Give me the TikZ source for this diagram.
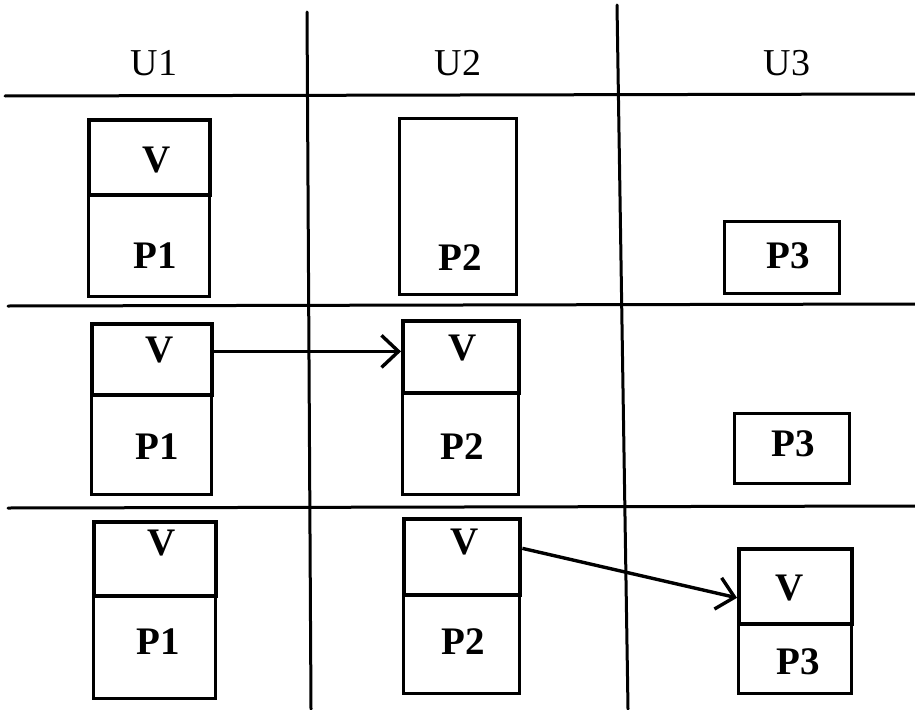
\documentclass[tikz,border=0pt]{standalone}
\usepackage{fontspec}
\setmainfont{Liberation Serif}
\usetikzlibrary{arrows.meta,calc}
\tikzset{
  grid/.style={line width=3pt, line cap=round},
  vpart/.style={draw, line width=4.4pt, inner sep=0pt, anchor=north west},
  ppart/.style={draw, line width=3.2pt, inner sep=0pt, anchor=north west},
  lbl/.style={font=\fontsize{39}{44}\selectfont\bfseries, inner sep=0pt},
  hdr/.style={font=\fontsize{38}{44}\selectfont, inner sep=0pt},
  arr/.style={line width=3.4pt, -{Straight Barb[length=17pt, width=32pt, line width=3.4pt]}}
}
\begin{document}
\begin{tikzpicture}[x=1pt,y=-1pt]
\useasboundingbox (0,0) rectangle (915,709);
% grid
\draw[grid] (5,96) -- (915,94);
\draw[grid] (8,306) -- (915,304);
\draw[grid] (8,508) -- (915,506);
\draw[grid] (307,12) -- (311,709);
\draw[grid] (617,5) -- (628,709);
% headers
\node[hdr] (u1) at (154,63) {U1};
\node[hdr] (u2) at (458,63) {U2};
\node[hdr] (u3) at (787,63) {U3};
% row 1
\node[ppart, minimum width=121pt, minimum height=102pt] (p11) at (87,193) {};
\node[vpart, minimum width=121pt, minimum height=75pt] (v11) at (87,118) {};
\node[lbl] (v11t) at (157,160) {V};
\node[lbl] (p11t) at (155,256) {P1};
\node[ppart, minimum width=117pt, minimum height=176pt] (p12) at (398,117) {};
\node[lbl] (p12t) at (460,258) {P2};
\node[ppart, minimum width=115pt, minimum height=72pt] (p13) at (723,220) {};
\node[lbl] (p13t) at (788,256) {P3};
% row 2
\node[ppart, minimum width=120pt, minimum height=100pt] (p21) at (90,393) {};
\node[vpart, minimum width=120pt, minimum height=71pt] (v21) at (90,322) {};
\node[lbl] (v21t) at (160,350) {V};
\node[lbl] (p21t) at (157,447) {P1};
\node[ppart, minimum width=116pt, minimum height=102pt] (p22) at (401,391) {};
\node[vpart, minimum width=116pt, minimum height=72pt] (v22) at (401,319) {};
\node[lbl] (v22t) at (463,348) {V};
\node[lbl] (p22t) at (462,447) {P2};
\node[ppart, minimum width=115pt, minimum height=70pt] (p23) at (733,412) {};
\node[lbl] (p23t) at (793,444) {P3};
% row 3
\node[ppart, minimum width=122pt, minimum height=103pt] (p31) at (92,594) {};
\node[vpart, minimum width=122pt, minimum height=74pt] (v31) at (92,520) {};
\node[lbl] (v31t) at (162,543) {V};
\node[lbl] (p31t) at (158,642) {P1};
\node[ppart, minimum width=116pt, minimum height=99pt] (p32) at (402,593) {};
\node[vpart, minimum width=116pt, minimum height=76pt] (v32) at (402,517) {};
\node[lbl] (v32t) at (465,542) {V};
\node[lbl] (p32t) at (463,642) {P2};
\node[ppart, minimum width=113pt, minimum height=70pt] (p33) at (737,622) {};
\node[vpart, minimum width=113pt, minimum height=75pt] (v33) at (737,547) {};
\node[lbl] (v33t) at (790,588) {V};
\node[lbl] (p33t) at (798,662) {P3};
% arrows
\coordinate (a1) at ($(v21.north east)!0.39!(v21.south east)$);
\draw[arr] (a1) -- (a1 -| v22.west);
\draw[arr] ($(v32.north east)!0.39!(v32.south east)$) -- ($(v33.north west)!0.64!(v33.south west)$);
\end{tikzpicture}
\end{document}
